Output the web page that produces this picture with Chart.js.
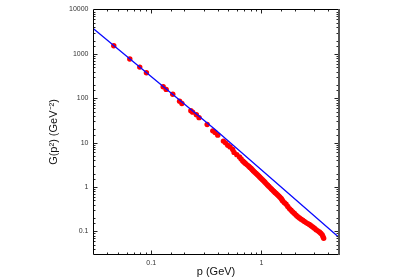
<!DOCTYPE html>
<html><head><meta charset="utf-8">
<script src="https://cdn.jsdelivr.net/npm/chart.js@4/dist/chart.umd.min.js"></script>
<style>html,body{margin:0;padding:0;background:#fff}canvas{display:block}</style>
</head><body>
<canvas id="c" width="399" height="279"></canvas>
<script>
// Lattice data points (p in GeV, G in GeV^-2), read along the red band
const dataP = [0.0458,0.064,0.0788,0.0906,0.1285,0.1368,0.157,0.181,0.19,0.229,0.238,0.257,0.272,
  0.322,0.362,0.380,0.402,0.452,0.472,0.495,0.520,0.549,0.565,0.598,0.632,0.654,0.677,0.696,0.716,0.741,
  0.767,0.787,0.807,0.826,0.846,0.870,0.895,0.920,0.945,0.969,0.994,1.021,1.049,1.076,1.103,1.134,
  1.165,1.198,1.232,1.262,1.293,1.326,1.359,1.396,1.435,1.472,1.509,1.534,1.560,1.616,1.675,1.733,
  1.794,1.857,1.922,1.992,2.064,2.136,2.211,2.288,2.368,2.453,2.541,2.630,2.723,2.819,2.918,3.023,
  3.131,3.242,3.356,3.452,3.55,3.61,3.67];
const dataG = [1524,763,503,374,181,158,123,86,76,52,48.5,42.5,36.5,
  25.6,18.4,16.9,14.7,10.8,9.85,8.74,8.0,7.0,6.0,5.34,4.76,4.29,3.86,3.61,3.38,3.15,
  2.93,2.76,2.60,2.45,2.30,2.15,2.01,1.89,1.77,1.66,1.55,1.46,1.37,1.28,1.19,1.11,
  1.04,0.967,0.90,0.849,0.80,0.754,0.71,0.667,0.626,0.585,0.547,0.514,0.483,0.443,0.407,0.364,
  0.325,0.298,0.273,0.251,0.230,0.214,0.200,0.188,0.177,0.167,0.157,0.149,0.142,0.133,0.125,0.117,
  0.109,0.1025,0.0964,0.0901,0.0843,0.0765,0.0695];
// Fit curve (read at a few points)
const fitP = [0.03, 0.38, 5];
const fitG = [3700, 19.6, 0.074];
const xTickLabels = ['0.1','1'];
const yTickLabels = ['0.1','1','10','100','1000','10000'];
const xTitle = 'p (GeV)';
const yTitle = 'G(p\u00B2) (GeV\u207B\u00B2)';

const pts = dataP.map((p,i)=>({x:p,y:dataG[i]}));
const fit = fitP.map((p,i)=>({x:p,y:fitG[i]}));

const fmt = v => String(+(+v).toPrecision(6));

const framePlugin = {
  id:'frame',
  afterDatasetsDraw(chart){
    const {ctx, chartArea:a, scales:{x,y}} = chart;
    ctx.save();
    ctx.strokeStyle='#222'; ctx.lineWidth=1;
    const drawTicks=(scale, horiz)=>{
      scale.ticks.forEach(t=>{
        const v=t.value;
        if (v<=scale.min*1.0001 || v>=scale.max*0.9999) return;
        const lg=Math.log10(v); const major=Math.abs(lg-Math.round(lg))<1e-6;
        const len= major?4:2;
        const p=Math.round(scale.getPixelForValue(v))+0.5;
        ctx.beginPath();
        if(horiz){ ctx.moveTo(p,a.bottom); ctx.lineTo(p,a.bottom-len); ctx.moveTo(p,a.top); ctx.lineTo(p,a.top+len);}
        else { ctx.moveTo(a.left,p); ctx.lineTo(a.left+len,p); ctx.moveTo(a.right,p); ctx.lineTo(a.right-len,p);}
        ctx.stroke();
      });
    };
    drawTicks(x,true); drawTicks(y,false);
    ctx.strokeStyle='#000';
    ctx.beginPath();
    ctx.moveTo(a.right,a.top); ctx.lineTo(a.left,a.top); ctx.lineTo(a.left,a.bottom); ctx.lineTo(a.right,a.bottom);
    ctx.stroke();
    ctx.strokeStyle='#555'; ctx.lineWidth=2;
    ctx.beginPath(); ctx.moveTo(a.right+0.5,a.top-0.5); ctx.lineTo(a.right+0.5,a.bottom+0.5); ctx.stroke();
    ctx.restore();
  }
};

new Chart(document.getElementById('c'), {
  type:'scatter',
  data:{datasets:[
    {data:fit, showLine:true, borderColor:'#0a0aff', borderWidth:1.3, pointRadius:0, fill:false, order:0},
    {data:pts, showLine:false, backgroundColor:'#ff0000', borderWidth:0, pointRadius:2.7, pointHoverRadius:2.7, order:1}
  ]},
  options:{
    responsive:false, animation:false,
    plugins:{legend:{display:false}, tooltip:{enabled:false}},
    layout:{padding:{left:45, right:60.5, top:9.5, bottom:0}},
    scales:{
      x:{type:'logarithmic', position:'bottom', min:0.03, max:5,
        grid:{display:false, drawTicks:false}, border:{display:false},
        ticks:{autoSkip:false, maxRotation:0, padding:4, color:'#333',
          font:{family:'Liberation Sans, Arial, sans-serif', size:7},
          callback:v=>{const s=fmt(v); return xTickLabels.includes(s)?s:'';}},
        title:{display:true, text:xTitle, color:'#111', padding:{top:0,bottom:0},
          font:{family:'Liberation Sans, Arial, sans-serif', size:11}},
        afterFit:s=>{s.height=24.5;}
      },
      y:{type:'logarithmic', position:'left', min:0.03, max:10000,
        grid:{display:false, drawTicks:false}, border:{display:false},
        ticks:{autoSkip:false, padding:5, color:'#333',
          font:{family:'Liberation Sans, Arial, sans-serif', size:7},
          callback:v=>{const s=fmt(v); return yTickLabels.includes(s)?s:'';}},
        title:{display:true, text:yTitle, color:'#111', padding:{top:2,bottom:0},
          font:{family:'Liberation Sans, Arial, sans-serif', size:11}},
        afterFit:s=>{s.width=48.5;}
      }
    }
  },
  plugins:[framePlugin]
});
</script>
</body></html>
